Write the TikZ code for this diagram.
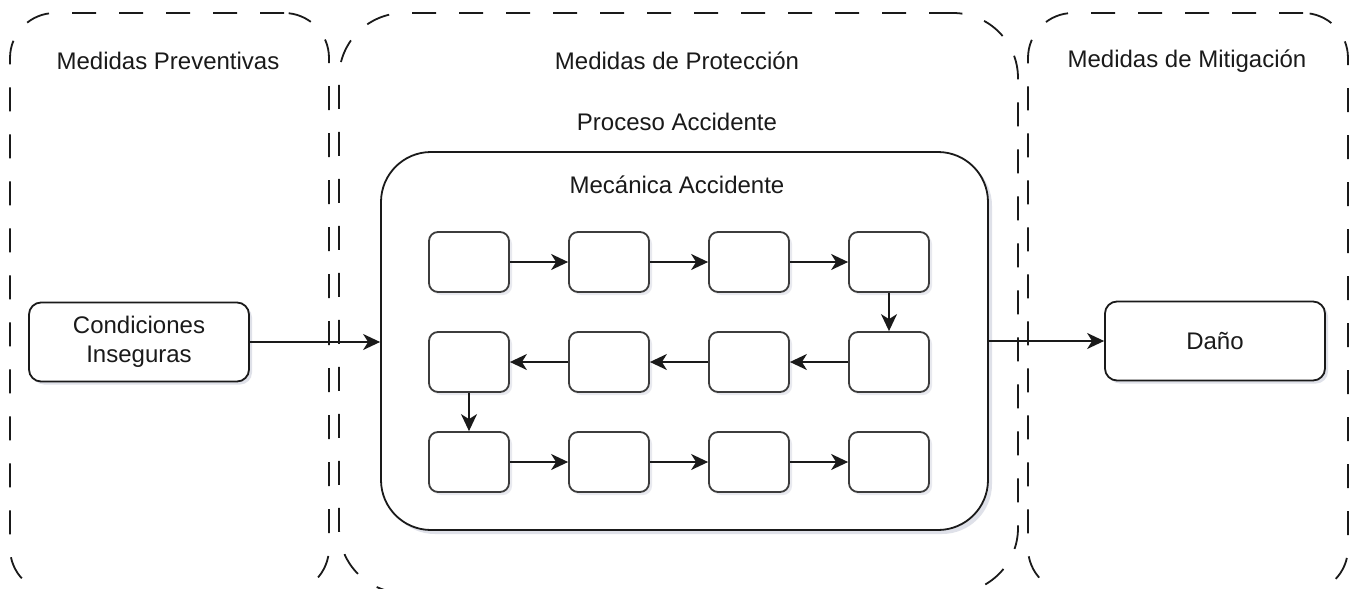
\documentclass[tikz,border=0pt]{standalone}
\usepackage{fontspec}
\setmainfont{Liberation Sans}
\usetikzlibrary{arrows.meta,shadows}
\definecolor{ink}{HTML}{1A1A1A}
\definecolor{shade}{HTML}{8088A8}
\begin{document}
\begin{tikzpicture}[x=1pt,y=-1pt,
  every node/.style={font=\fontsize{24}{29}\selectfont, text=ink},
  zone/.style={draw=ink, line width=1.8pt, dash pattern=on 24pt off 23pt, rectangle},
  lbl/.style={inner sep=0pt, anchor=center},
  sbox/.style={draw=ink!85, line width=1.8pt, rounded corners=9pt, fill=white,
    minimum width=80pt, minimum height=60pt, inner sep=0pt,
    drop shadow={shadow xshift=3pt, shadow yshift=-3pt, opacity=0.18, fill=shade}},
  bigbox/.style={draw=ink, line width=1.8pt, rounded corners=12pt, fill=white,
    minimum width=220pt, minimum height=79pt, inner sep=0pt, align=center,
    drop shadow={shadow xshift=3pt, shadow yshift=-3pt, opacity=0.25, fill=shade}},
  conn/.style={draw=ink, line width=1.7pt, -{Stealth[length=17pt, width=16pt, inset=5pt]}}
]
\useasboundingbox (0,0) rectangle (1353,589);
\clip (0,0) rectangle (1353,589);
\fill[white] (0,0) rectangle (1353,589);

% zones
\node[zone, rounded corners=45pt, minimum width=319pt, minimum height=580pt] (zprev) at (169.5,303) {};
\node[zone, rounded corners=65pt, minimum width=679pt, minimum height=580pt] (zprot) at (678.5,303) {};
\node[zone, rounded corners=45pt, minimum width=320pt, minimum height=580pt] (zmit) at (1188,303) {};

\node[lbl] (tprev) at (168,61) {Medidas Preventivas};
\node[lbl] (tprot) at (677,61) {Medidas de Protección};
\node[lbl] (tmit) at (1187,61) {Medidas de Mitigación};
\node[lbl] (tproc) at (677,122) {Proceso Accidente};

% mecanica
\node[draw=ink, line width=1.8pt, rounded corners=50pt, fill=white,
  minimum width=607pt, minimum height=378pt, inner sep=0pt,
  drop shadow={shadow xshift=4pt, shadow yshift=-4pt, opacity=0.25, fill=shade}] (mec) at (684.5,341) {};
\node[lbl] (tmec) at (677,185) {Mecánica Accidente};

% small boxes
\node[sbox] (a1) at (469,262) {};
\node[sbox] (a2) at (609,262) {};
\node[sbox] (a3) at (749,262) {};
\node[sbox] (a4) at (889,262) {};
\node[sbox] (b1) at (469,362) {};
\node[sbox] (b2) at (609,362) {};
\node[sbox] (b3) at (749,362) {};
\node[sbox] (b4) at (889,362) {};
\node[sbox] (c1) at (469,462) {};
\node[sbox] (c2) at (609,462) {};
\node[sbox] (c3) at (749,462) {};
\node[sbox] (c4) at (889,462) {};

\draw[conn] (a1) -- (a2);
\draw[conn] (a2) -- (a3);
\draw[conn] (a3) -- (a4);
\draw[conn] (a4) -- (b4);
\draw[conn] (b4) -- (b3);
\draw[conn] (b3) -- (b2);
\draw[conn] (b2) -- (b1);
\draw[conn] (b1) -- (c1);
\draw[conn] (c1) -- (c2);
\draw[conn] (c2) -- (c3);
\draw[conn] (c3) -- (c4);

% outer boxes
\node[bigbox] (cond) at (139,342) {Condiciones\\Inseguras};
\node[bigbox] (dano) at (1215,341) {Daño};

\draw[conn] (cond.east) -- (mec.west |- cond.east);
\draw[conn] (mec.east |- dano.west) -- (dano.west);
\end{tikzpicture}
\end{document}
